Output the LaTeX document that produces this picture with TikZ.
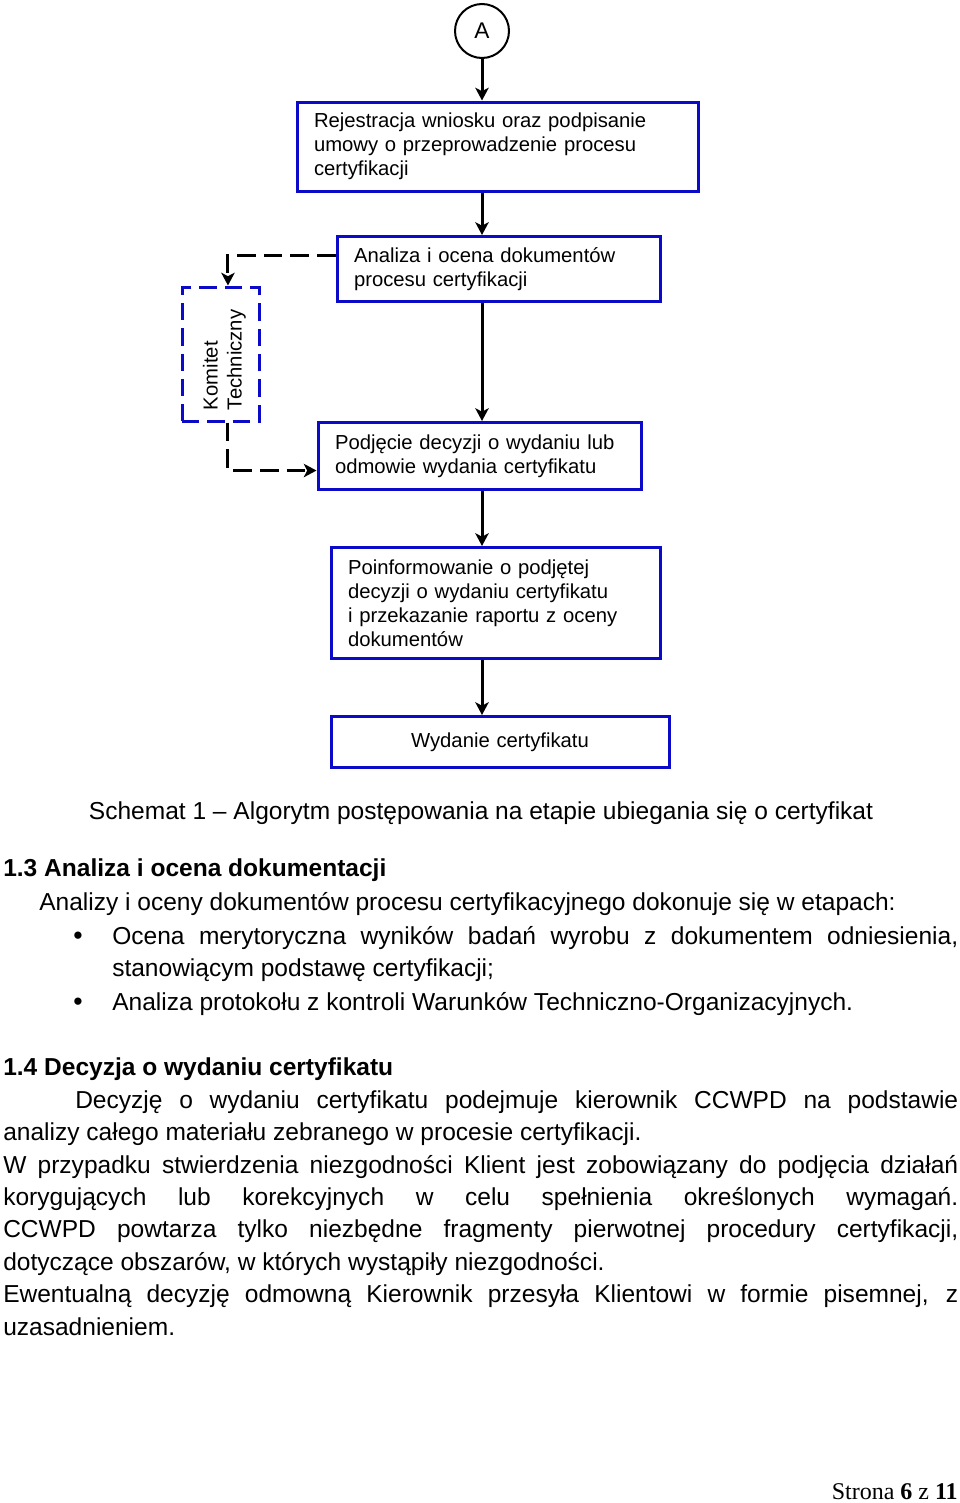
\documentclass[tikz,border=0pt]{standalone}
\usepackage{fontspec}
\setmainfont{Liberation Sans}
\newfontfamily\footserif{Liberation Serif}
\usetikzlibrary{arrows.meta}
\definecolor{boxblue}{RGB}{10,10,200}
\tikzset{
  box/.style={draw=boxblue, line width=2.25pt, inner xsep=12.75pt, inner ysep=2pt, align=left,
    font=\fontsize{15.2}{18}\selectfont},
  ktbox/.style={draw=boxblue, line width=2.25pt, dash pattern=on 13pt off 6pt, inner sep=0pt,
    font=\fontsize{15.2}{18}\selectfont},
  flow/.style={line width=2.25pt, -{Stealth[length=9.5pt,width=10pt,inset=2.5pt]}},
  dflow/.style={flow, dash pattern=on 14pt off 6pt},
  body/.style={anchor=base west, inner sep=0pt, font=\fontsize{18.4}{24}\selectfont},
  head/.style={body, font=\fontsize{18.4}{24}\selectfont\bfseries},
}
\begin{document}
\begin{tikzpicture}[x=0.75pt,y=-0.75pt]
\useasboundingbox (0,0) rectangle (960,1503);

% flowchart
\node[circle, draw, line width=1.5pt, minimum size=40.5pt, inner sep=0pt,
  font=\fontsize{17}{20}\selectfont] (A) at (482,31) {A};
\node[box, text width=275.25pt, minimum height=66.75pt] (b1) at (497.5,146.5)
  {Rejestracja wniosku oraz podpisanie\\umowy o przeprowadzenie procesu\\certyfikacji};
\node[box, text width=216.75pt, minimum height=48.75pt] (b2) at (498.5,269)
  {Analiza i ocena dokumentów\\procesu certyfikacji};
\node[box, text width=216.75pt, minimum height=50.25pt] (b3) at (479.5,456)
  {Podjęcie decyzji o wydaniu lub\\odmowie wydania certyfikatu};
\node[box, text width=221.25pt, minimum height=83.25pt] (b4) at (495.5,603)
  {Poinformowanie o podjętej\\decyzji o wydaniu certyfikatu\\i przekazanie raportu z oceny\\dokumentów};
\node[box, align=center, text width=228pt, minimum height=38.25pt] (b5) at (500,742)
  {Wydanie certyfikatu};
\node[ktbox, minimum width=57.75pt, minimum height=100.5pt] (kt) at (220.5,354)
  {\hspace{6pt}\rotatebox{90}{\parbox{84pt}{Komitet\\Techniczny}}};

\draw[flow] (A) -- (A |- b1.north);
\draw[flow] (b1.south -| A) -- (b2.north -| A);
\draw[flow] (b2.south -| A) -- (b3.north -| A);
\draw[flow] (b3.south -| A) -- (b4.north -| A);
\draw[flow] (b4.south -| A) -- (b5.north -| A);
\draw[dflow] ([yshift=10pt]b2.west) -| ([xshift=5.6pt]kt.north);
\draw[dflow] ([xshift=5.6pt]kt.south) |- ([yshift=-10.9pt]b3.west);

% caption
\node[body, anchor=base] (cap) at (481,819)
  {Schemat 1 – Algorytm postępowania na etapie ubiegania się o certyfikat};

% text
\node[head] (h13) at (3,876) {1.3 Analiza i ocena dokumentacji};
\node[body] (p1) at (39,910) {Analizy i oceny dokumentów procesu certyfikacyjnego dokonuje się w etapach:};
\node[body, font=\fontsize{20}{24}\selectfont] (bul1) at (73,944) {•};
\node[body] (l1) at (112,944) {\makebox[634.5pt][s]{Ocena merytoryczna wyników badań wyrobu z dokumentem odniesienia,}};
\node[body] (l2) at (112,976) {stanowiącym podstawę certyfikacji;};
\node[body, font=\fontsize{20}{24}\selectfont] (bul2) at (73,1010) {•};
\node[body] (l3) at (112,1010) {Analiza protokołu z kontroli Warunków Techniczno-Organizacyjnych.};
\node[head] (h14) at (3,1075) {1.4 Decyzja o wydaniu certyfikatu};
\node[body] (d1) at (75,1108) {\makebox[662.25pt][s]{Decyzję o wydaniu certyfikatu podejmuje kierownik CCWPD na podstawie}};
\node[body] (d2) at (3,1140) {analizy całego materiału zebranego w procesie certyfikacji.};
\node[body] (d3) at (3,1173) {\makebox[716.25pt][s]{W przypadku stwierdzenia niezgodności Klient jest zobowiązany do podjęcia działań}};
\node[body] (d4) at (3,1205) {\makebox[716.25pt][s]{korygujących lub korekcyjnych w celu spełnienia określonych wymagań.}};
\node[body] (d5) at (3,1237) {\makebox[716.25pt][s]{CCWPD powtarza tylko niezbędne fragmenty pierwotnej procedury certyfikacji,}};
\node[body] (d6) at (3,1270) {dotyczące obszarów, w których wystąpiły niezgodności.};
\node[body] (d7) at (3,1302) {\makebox[716.25pt][s]{Ewentualną decyzję odmowną Kierownik przesyła Klientowi w formie pisemnej, z}};
\node[body] (d8) at (3,1335) {uzasadnieniem.};

% footer
\node[anchor=base east, inner sep=0pt, font=\footserif\fontsize{18}{20}\selectfont] (foot) at (958,1499)
  {Strona \textbf{6} z \textbf{11}};
\end{tikzpicture}
\end{document}
